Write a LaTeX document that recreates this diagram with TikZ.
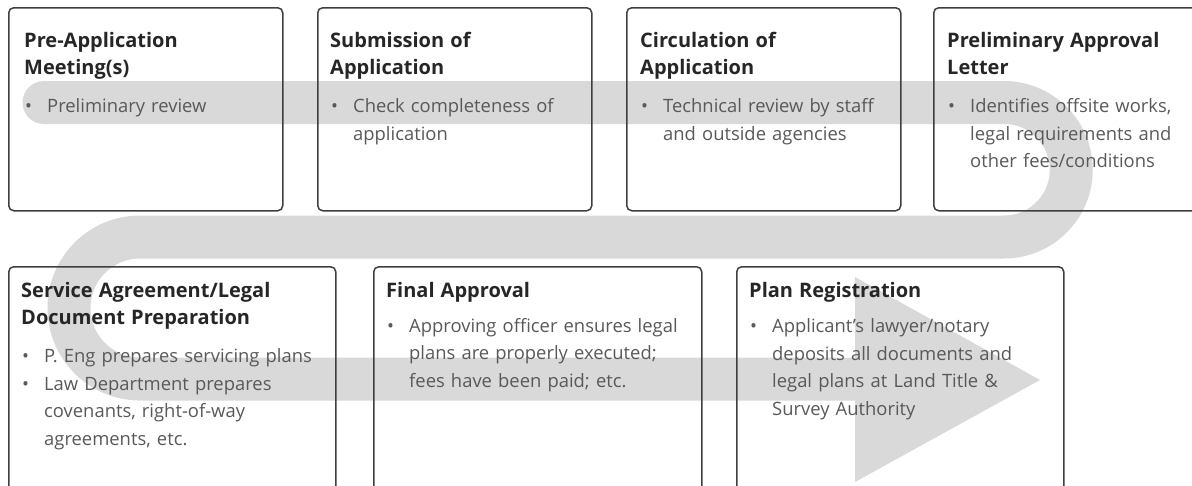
\documentclass[tikz,border=0pt]{standalone}
\usepackage{fontspec}
\setmainfont{Open Sans}
\definecolor{bandgray}{HTML}{D9D9D9}
\definecolor{boxline}{HTML}{3F3F3F}
\definecolor{headtext}{HTML}{262626}
\definecolor{bodytext}{HTML}{595959}
\newcommand\hdfont{\fontsize{20}{27.5}\selectfont\bfseries}
\newcommand\bodyfont{\fontsize{18.4}{27.5}\selectfont}
\newcommand\headtxt[1]{\noindent{\hdfont\color{headtext}#1}\par}
\newcommand\bitem{\par\hangindent=23pt\hangafter=1\noindent\makebox[23pt][l]{\hspace{1pt}\textbullet}}
\tikzset{
  stepbox/.style={draw=boxline, line width=1.5pt, rounded corners=5pt, inner sep=0pt, anchor=north west},
  txt/.style={anchor=base west, inner sep=0pt, text width=320pt, align=left, font=\bodyfont, text=bodytext},
  band/.style={draw=bandgray, line width=43pt},
}
\begin{document}
\begin{tikzpicture}[x=1pt,y=-1pt]
\clip (0,0) rectangle (1192,485);
% serpentine band
\draw[band, line cap=round] (44,102.5) -- (1004,102.5)
  arc[start angle=-90, end angle=90, radius=67.25] -- (140,237)
  arc[start angle=-90, end angle=-270, radius=71] -- (856,379);
\fill[bandgray] (855,277) -- (1040,380) -- (855,482) -- cycle;
% boxes
\node[stepbox, minimum width=274pt, minimum height=203pt] (b1) at (8,7) {};
\node[stepbox, minimum width=274pt, minimum height=203pt] (b2) at (317,7) {};
\node[stepbox, minimum width=274pt, minimum height=203pt] (b3) at (626,7) {};
\node[stepbox, minimum width=290pt, minimum height=203pt] (b4) at (933,7) {};
\node[stepbox, minimum width=327pt, minimum height=230pt] (b5) at (8,266) {};
\node[stepbox, minimum width=328pt, minimum height=230pt] (b6) at (373,266) {};
\node[stepbox, minimum width=327pt, minimum height=230pt] (b7) at (736,266) {};
% texts
\node[txt] (t1) at (24,47) {\headtxt{Pre-Application\\Meeting(s)}\vspace{10.5pt}\bitem Preliminary review\par};
\node[txt] (t2) at (330,47) {\headtxt{Submission of\\Application}\vspace{10.5pt}\bitem Check completeness of\newline application\par};
\node[txt] (t3) at (640,47) {\headtxt{Circulation of\\Application}\vspace{10.5pt}\bitem Technical review by staff\newline and outside agencies\par};
\node[txt] (t4) at (947,47) {\headtxt{Preliminary Approval\\Letter}\vspace{10.5pt}\bitem Identifies offsite works,\newline legal requirements and\newline other fees/conditions\par};
\node[txt] (t5) at (21,297) {\headtxt{Service Agreement/Legal\\Document Preparation}\vspace{10.5pt}\bitem P. Eng prepares servicing plans\bitem Law Department prepares\newline covenants, right-of-way\newline agreements, etc.\par};
\node[txt] (t6) at (386,297) {\headtxt{Final Approval}\vspace{7.5pt}\bitem Approving officer ensures legal\newline plans are properly executed;\newline fees have been paid; etc.\par};
\node[txt] (t7) at (749,297) {\headtxt{Plan Registration}\vspace{8pt}\bitem Applicant’s lawyer/notary\newline deposits all documents and\newline legal plans at Land Title \&\newline Survey Authority\par};
\end{tikzpicture}
\end{document}
